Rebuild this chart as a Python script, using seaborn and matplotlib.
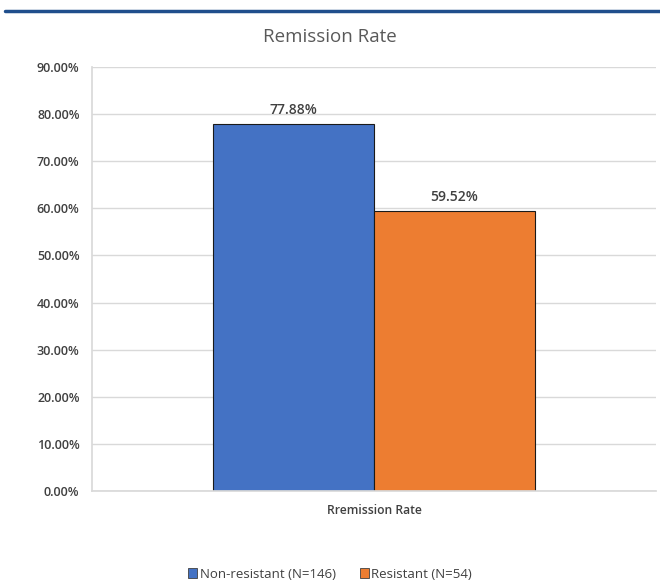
import matplotlib
matplotlib.use("Agg")
import matplotlib.pyplot as plt
import seaborn as sns
import pandas as pd
from matplotlib.patches import Patch
from matplotlib.lines import Line2D

categories = ["Rremission Rate"]
groups = ["Non-resistant (N=146)", "Resistant (N=54)"]
values = [77.88, 59.52]
colors = ["#4472C4", "#ED7D31"]
yticks = [0, 10, 20, 30, 40, 50, 60, 70, 80, 90]

df = pd.DataFrame({"cat": categories * len(groups), "group": groups, "value": values})

sns.set_theme(style="white")
plt.rcParams["font.family"] = ["Open Sans", "DejaVu Sans"]

fig = plt.figure(figsize=(6.6, 5.81), dpi=100)
ax = fig.add_axes([92/660, 1 - 491/581, (656-92)/660, (491-67)/581])

sns.barplot(data=df, x="cat", y="value", hue="group", palette=colors,
            width=0.571, edgecolor="#1a1a1a", linewidth=0.8, ax=ax, legend=False,
            saturation=1)

ax.set_xlim(-0.5, 0.5)
ax.set_ylim(0, 90)
ax.set_yticks(yticks)
ax.set_yticklabels([f"{t:.2f}%" for t in yticks], fontsize=9, color="#404040", fontweight="semibold")
ax.tick_params(axis="x", labelsize=8.7, colors="#404040", length=0, pad=9)
for lbl in ax.get_xticklabels():
    lbl.set_fontweight("semibold")
ax.tick_params(axis="y", length=0, pad=9)
ax.set_xlabel("")
ax.set_ylabel("")
ax.yaxis.grid(True, color="#d9d9d9", linewidth=1)
ax.set_axisbelow(True)
for s in ["top", "right"]:
    ax.spines[s].set_visible(False)
ax.spines["left"].set_color("#d9d9d9")
ax.spines["bottom"].set_color("#d9d9d9")

for cont in ax.containers:
    ax.bar_label(cont, labels=[f"{v:.2f}%" for v in cont.datavalues], padding=5,
                 fontsize=10, color="#404040", fontweight="semibold")

fig.text(0.5, 1 - 37/581, "Remission Rate", ha="center", va="center",
         fontsize=13.5, color="#595959")

fig.add_artist(Line2D([5/660, 1.0], [1 - 11/581, 1 - 11/581], color="#1F4E8C", linewidth=2.5))

handles = [Patch(facecolor=c, edgecolor="#404040", linewidth=0.6) for c in colors]
fig.legend(handles, groups, loc="center", bbox_to_anchor=(0.5, 1 - 574/581), ncol=2,
           frameon=False, fontsize=9.5, handlelength=0.7, handleheight=0.7,
           handletextpad=0.2, columnspacing=1.8, labelcolor="#404040")

fig.savefig("out.png", dpi=100)
